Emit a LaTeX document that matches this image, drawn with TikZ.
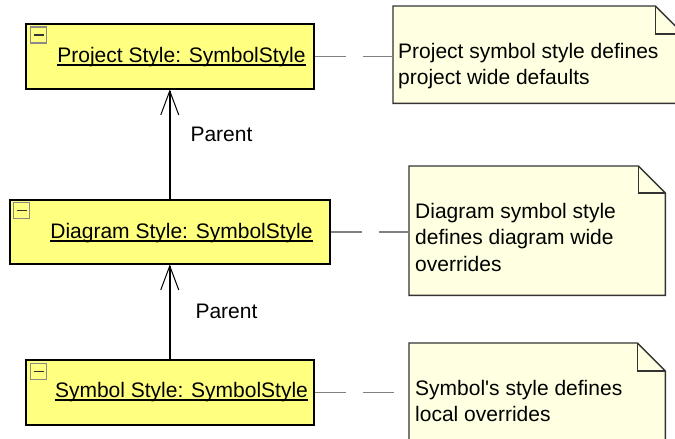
\documentclass[tikz,border=0pt]{standalone}
\usepackage{fontspec}
\setmainfont{Liberation Sans}[Ligatures=TeXOff]
\usetikzlibrary{arrows.meta}
\definecolor{boxyellow}{HTML}{FFFF80}
\definecolor{notecream}{HTML}{FFFFE1}
\definecolor{linkgray}{HTML}{808080}
\definecolor{iconbord}{HTML}{8A8A8A}
\begin{document}
\begin{tikzpicture}[x=1pt,y=-1pt,
  classbox/.style={draw=black, line width=1.5pt, fill=boxyellow, inner sep=0pt, anchor=north west},
  boxtext/.style={inner sep=0pt, anchor=base, font=\fontsize{21}{26.5}\selectfont},
  iconbox/.style={draw=iconbord, line width=1.2pt, fill=boxyellow, minimum size=16pt, inner sep=0pt,
    path picture={\draw[line width=1.6pt, black!80] ([xshift=-5pt]path picture bounding box.center) -- ([xshift=5pt]path picture bounding box.center);}},
  notearea/.style={inner sep=0pt, anchor=north west},
  noteline/.style={draw=black!80, line width=1.4pt, fill=notecream},
  notetext/.style={inner sep=0pt, anchor=north west, align=left, font=\fontsize{21}{26.5}\selectfont},
  parentlink/.style={line width=1.5pt, -{Straight Barb[length=24pt,width=18pt,line width=1pt]}},
  notelink/.style={draw=linkgray, line width=1.5pt, dash pattern=on 31pt off 17pt},
  linklabel/.style={inner sep=0pt, font=\fontsize{21}{26.5}\selectfont}
]
\useasboundingbox (0,0) rectangle (675,439);
\clip (0,0) rectangle (675,439);
\fill[white] (0,0) rectangle (675,439);

% class boxes
\node[classbox, minimum width=288pt, minimum height=65pt] (p) at (25,23) {};
\node[classbox, minimum width=320pt, minimum height=64pt] (d) at (9,199) {};
\node[classbox, minimum width=288pt, minimum height=65pt] (s) at (25,359) {};

\node[boxtext] (pt) at (181.5,62) {Project Style: SymbolStyle};
\node[boxtext] (dt) at (181.5,238) {Diagram Style: SymbolStyle};
\node[boxtext] (st) at (181.5,397) {Symbol Style: SymbolStyle};
\foreach \t in {pt,dt,st}
  \draw[line width=1.2pt] ([yshift=-3pt]\t.base west) -- ([yshift=-3pt]\t.base east);

\node[iconbox] (pi) at (38.5,35) {};
\node[iconbox] (di) at (21.5,210.5) {};
\node[iconbox] (si) at (38.5,371.5) {};

% notes
\node[notearea, minimum width=290pt, minimum height=97pt] (n1) at (393,6) {};
\node[notearea, minimum width=256pt, minimum height=129pt] (n2) at (409,166) {};
\node[notearea, minimum width=256pt, minimum height=130pt] (n3) at (409,343) {};
\foreach \n/\f in {n1/28,n2/27,n3/28}{
  \draw[noteline] (\n.north west) -- ([xshift=-\f pt]\n.north east) -- ([yshift=-\f pt]\n.north east)
     -- (\n.south east) -- (\n.south west) -- cycle;
  \draw[noteline, fill=none] ([xshift=-\f pt]\n.north east) -- ([xshift=-\f pt, yshift=-\f pt]\n.north east)
     -- ([yshift=-\f pt]\n.north east);
}
\node[notetext] (n1t) at (398,43) {Project symbol style defines\\project wide defaults};
\node[notetext] (n2t) at (415,203) {Diagram symbol style\\defines diagram wide\\overrides};
\node[notetext] (n3t) at (415,380) {Symbol's style defines\\local overrides};

% connectors
\draw[parentlink] (d.north) -- (p.south) node[linklabel, pos=0.586, right=20pt] {Parent};
\draw[parentlink] (s.north) -- (d.south) node[linklabel, pos=0.5, right=25pt] {Parent};

\draw[notelink] (p.east) -- (p.east -| n1.west);
\draw[notelink] (d.east) -- (d.east -| n2.west);
\draw[notelink] (s.east) -- (s.east -| n3.west);
\end{tikzpicture}
\end{document}
